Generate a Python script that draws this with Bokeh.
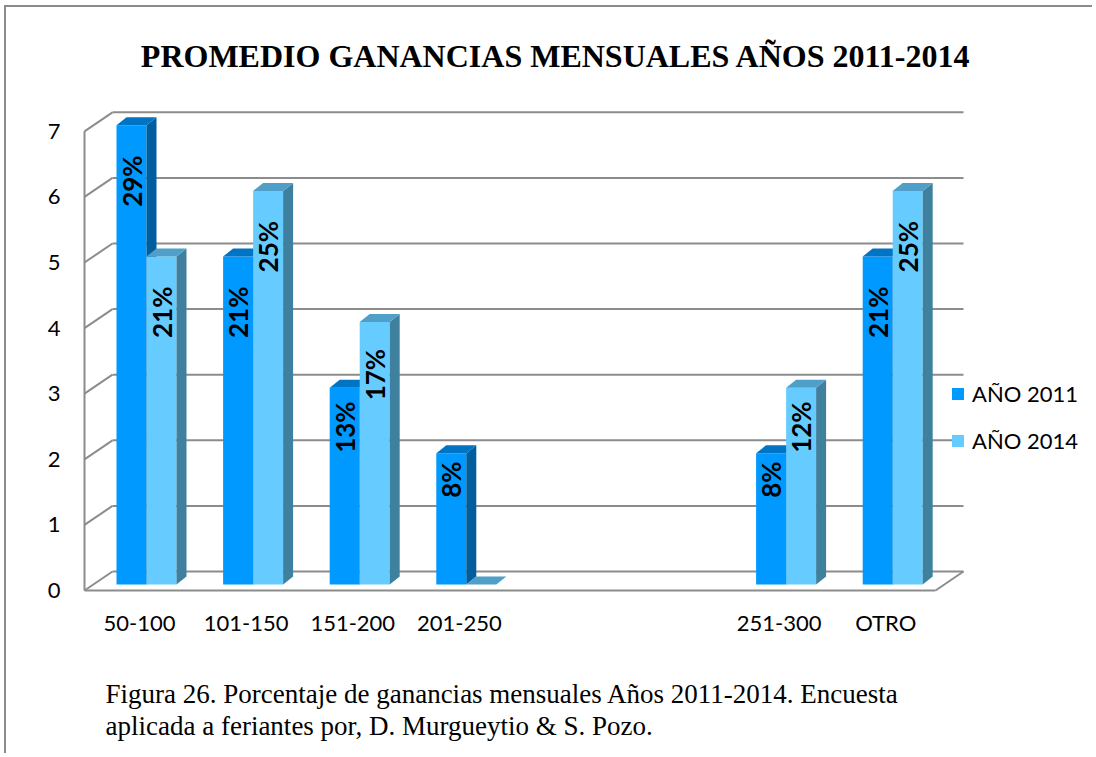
import math
from bokeh.plotting import figure
from bokeh.models import (FixedTicker, CustomJSTickFormatter, Legend, LegendItem,
                          Title, Label, Range1d)
from bokeh.embed import file_html
from bokeh.resources import INLINE
from bokeh.core.properties import value

# ---------------- data ----------------
categories = ["50-100", "101-150", "151-200", "201-250", "", "", "251-300", "OTRO"]
values_2011 = [7, 5, 3, 2, None, None, 2, 5]
values_2014 = [5, 6, 4, 0, None, None, 3, 6]
labels_2011 = ["29%", "21%", "13%", "8%", "", "", "8%", "21%"]
labels_2014 = ["21%", "25%", "17%", "", "", "", "12%", "25%"]
series_names = ["AÑO 2011", "AÑO 2014"]
y_ticks = [0, 1, 2, 3, 4, 5, 6, 7]
title_text = "PROMEDIO GANANCIAS MENSUALES AÑOS 2011-2014"
caption_lines = [
    "Figura 26. Porcentaje de ganancias mensuales Años 2011-2014. Encuesta",
    "aplicada a feriantes por, D. Murgueytio & S. Pozo.",
]

# ---------------- geometry (page pixels -> data) ----------------
W, H = 1088, 748
OFFX, OFFY = 6, 7           # canvas origin on the page (margin + border)
FRAME_L, FRAME_R, FRAME_T, FRAME_B = 80, 1090, 12, 596
X0_PX, Y0_PX = 146, 590     # page position of x=0 / y=0 (front plane)
SX, SY = 106.6, 65.6        # pixels per data unit


def dx(px):
    return (px - X0_PX) / SX


def dy(py):
    return (Y0_PX - py) / SY


XL = dx(84)        # front-left edge of the 3D box
XR = dx(935)       # front-right floor edge
BX = 28 / SX       # depth offset of back wall
BY = 19 / SY
BZ = dy(584)       # bar base
BW = 30 / SX       # bar width
DX = 10 / SX       # bar depth
DY = 8 / SY

p = figure(width=W, height=H, output_backend="svg", toolbar_location=None,
           x_range=Range1d(dx(FRAME_L), dx(FRAME_R)),
           y_range=Range1d(dy(FRAME_B), dy(FRAME_T)),
           min_border_left=FRAME_L - OFFX, min_border_right=W - (FRAME_R - OFFX),
           min_border_top=FRAME_T - OFFY, min_border_bottom=H - (FRAME_B - OFFY))
p.outline_line_color = None
p.xgrid.visible = False
p.ygrid.visible = False
p.background_fill_color = "white"
p.border_fill_color = "white"

# ---------------- 3D walls / gridlines ----------------
GRID = "#8c8c8c"
x0s, y0s, x1s, y1s = [], [], [], []
for v in y_ticks[1:]:
    x0s += [XL, XL + BX]; y0s += [v, v + BY]
    x1s += [XL + BX, XR + BX]; y1s += [v + BY, v + BY]
# floor
x0s += [XL, XL, XR, XL + BX]; y0s += [0, 0, 0, BY]
x1s += [XR, XL + BX, XR + BX, XR + BX]; y1s += [0, BY, BY, BY]
# left front edge
x0s.append(XL); y0s.append(0); x1s.append(XL); y1s.append(y_ticks[-1])
p.segment(x0s, y0s, x1s, y1s, line_color=GRID, line_width=2)

# ---------------- 3D bars ----------------
series = [
    (values_2011, labels_2011, -BW, ("#0099FF", "#005E9E", "#0074C4")),
    (values_2014, labels_2014, 0.0, ("#66CCFF", "#40809F", "#4F9FC8")),
]
legend_renderers = []
for vals, labs, off, (c_front, c_side, c_top) in series:
    idx = [i for i, v in enumerate(vals) if v is not None]
    left = [i + off for i in idx]
    right = [l + BW for l in left]
    top = [vals[i] + BZ for i in idx]
    bottom = [BZ] * len(idx)
    front = p.quad(left=left, right=right, bottom=bottom, top=top,
                   fill_color=c_front, line_color=None)
    legend_renderers.append(front)
    p.patches([[r, r + DX, r + DX, r] for r in right],
              [[b, b + DY, t + DY, t] for b, t in zip(bottom, top)],
              fill_color=c_side, line_color=None)
    p.patches([[l, l + DX, r + DX, r] for l, r in zip(left, right)],
              [[t, t + DY, t + DY, t] for t in top],
              fill_color=c_top, line_color=None)
    lx, ly, lt = [], [], []
    for i in idx:
        if labs[i]:
            v = vals[i]
            lx.append(i + off + BW / 2)
            ly.append(v + BZ - min(0.85, 0.2 * v))
            lt.append(labs[i])
    p.text(x=lx, y=ly, text=lt, angle=math.pi / 2, text_align="center",
           text_baseline="middle", text_font=value("Lato"),
           text_font_style="bold", text_font_size="26px", text_color="black")

# ---------------- axes ----------------
p.yaxis.ticker = FixedTicker(ticks=y_ticks)
p.xaxis.ticker = FixedTicker(ticks=[i - 0.065 for i in range(len(categories))])
p.xaxis.formatter = CustomJSTickFormatter(args=dict(cats=categories),
                                          code="return cats[index] || '';")
for ax in (p.xaxis, p.yaxis):
    ax.axis_line_color = None
    ax.major_tick_line_color = None
    ax.minor_tick_line_color = None
    ax.major_tick_out = 0
    ax.major_tick_in = 0
    ax.major_label_text_font = "Lato"
    ax.major_label_text_font_size = "22px"
    ax.major_label_text_color = "black"
p.yaxis.major_label_standoff = 20
p.xaxis.major_label_standoff = 12
# blank axis label used only as vertical room before the caption
p.xaxis.axis_label = " "
p.xaxis.axis_label_text_font_size = "10px"
p.xaxis.axis_label_standoff = 26

# ---------------- legend ----------------
legend = Legend(items=[LegendItem(label=n, renderers=[r])
                       for n, r in zip(series_names, legend_renderers)],
                location=(870, 142), orientation="vertical",
                glyph_width=15, glyph_height=15, label_standoff=7, spacing=20,
                padding=0, margin=0, border_line_color=None,
                background_fill_alpha=0, label_text_font="Lato",
                label_text_font_size="22px", label_text_color="black")
p.add_layout(legend)

# ---------------- title & caption ----------------
p.add_layout(Label(x=dx(555.5), y=dy(55), text=title_text, text_align="center",
                   text_baseline="alphabetic", text_font="Liberation Serif",
                   text_font_style="bold", text_font_size="32px",
                   text_color="black"))
p.add_layout(Title(text="\n".join(caption_lines), align="left",
                   offset=105 - FRAME_L, vertical_align="top", standoff=0,
                   text_font="Liberation Serif", text_font_style="normal",
                   text_font_size="27px", text_line_height=1.07,
                   text_color="black"), "below")

p.styles = {"margin-left": "4px", "margin-top": "5px",
            "border-top": "2px solid #8c8c8c", "border-left": "2px solid #8c8c8c"}

open("out.html", "w").write(file_html(p, INLINE))
